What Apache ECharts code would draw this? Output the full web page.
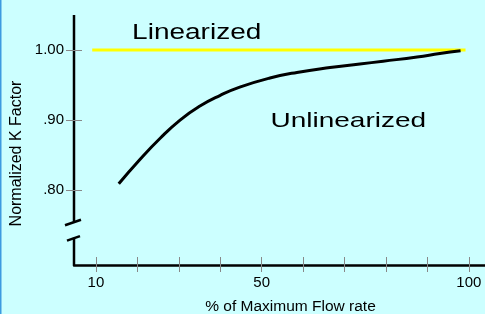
<!DOCTYPE html>
<html>
<head>
<meta charset="utf-8">
<script src="https://cdn.jsdelivr.net/npm/echarts@6/dist/echarts.min.js"></script>
<style>
  html, body { margin: 0; padding: 0; background: #ccffff; }
  #main { width: 485px; height: 314px; }
</style>
</head>
<body>
<div id="main"></div>
<script>
// values
var flowRate = [15.5, 20.5, 25.5, 30.3, 35.1, 39.9, 44.7, 52.0, 58.5, 66.5, 73.7, 79.3, 87.5, 93.0, 98.0];
var unlinearK = [0.809, 0.843, 0.874, 0.900, 0.920, 0.935, 0.947, 0.960, 0.968, 0.975, 0.980, 0.984, 0.990, 0.995, 0.999];
var linearRate = [9.1, 99.2];
var linearK = [1.0, 1.0];
var xTickValues = [10, 20, 30, 40, 50, 60, 70, 80, 90, 100];
var xLabelValues = [10, 50, 100];
var yTickValues = [0.8, 0.9, 1.0];
var yLabelTexts = { '0.8': '.80', '0.9': '.90', '1': '1.00' };

var xMin = 4.7, xMax = 103.9;
var yMin = 0.693, yMax = 1.05;
var breakHigh = 0.754, breakLow = 0.732;

var font = "'Liberation Sans', Arial, sans-serif";

function pairs(xs, ys) {
    return xs.map(function (x, i) { return [x, ys[i]]; });
}

var myChart = echarts.init(document.getElementById('main'));

option = {
    backgroundColor: '#ccffff',
    animation: false,
    grid: { left: 74, right: 0, top: 15, bottom: 49 },
    xAxis: [{
        type: 'value',
        min: xMin,
        max: xMax,
        position: 'bottom',
        axisLine: { show: true, lineStyle: { color: '#000', width: 2.5 } },
        axisTick: { show: true, inside: false, length: 7, customValues: xTickValues, lineStyle: { color: '#888', width: 1 } },
        axisLabel: { customValues: xLabelValues, margin: 10, color: '#000', fontSize: 15, fontFamily: font },
        splitLine: { show: false }
    }, {
        type: 'value',
        min: xMin,
        max: xMax,
        position: 'bottom',
        axisLine: { show: false },
        axisTick: { show: true, inside: true, length: 8, customValues: xTickValues, lineStyle: { color: '#888', width: 1 } },
        axisLabel: { show: false },
        splitLine: { show: false }
    }],
    yAxis: [{
        type: 'value',
        min: yMin,
        max: yMax,
        axisLine: { show: false },
        axisTick: { show: true, inside: false, length: 8, customValues: yTickValues, lineStyle: { color: '#888', width: 1 } },
        axisLabel: {
            customValues: yTickValues,
            margin: 10,
            color: '#000',
            fontSize: 15,
            fontFamily: font,
            formatter: function (v) { return yLabelTexts[String(Math.round(v * 10) / 10)]; }
        },
        splitLine: { show: false }
    }, {
        type: 'value',
        min: yMin,
        max: yMax,
        axisLine: { show: false },
        axisTick: { show: true, inside: true, length: 8, customValues: yTickValues, lineStyle: { color: '#888', width: 1 } },
        axisLabel: { show: false },
        splitLine: { show: false },
        position: 'left'
    }],
    series: [{
        name: 'Linearized',
        type: 'line',
        data: pairs(linearRate, linearK),
        symbol: 'none',
        lineStyle: { color: '#ffff00', width: 3 },
        z: 2
    }, {
        name: 'Unlinearized',
        type: 'line',
        data: pairs(flowRate, unlinearK),
        symbol: 'none',
        smooth: 0.5,
        lineStyle: { color: '#000', width: 3, cap: 'butt' },
        z: 3
    }]
};
myChart.setOption(option);

// axis with break, labels
var ref = { xAxisIndex: 0, yAxisIndex: 0 };
var pTop = myChart.convertToPixel(ref, [xMin, yMax]);
var pHigh = myChart.convertToPixel(ref, [xMin, breakHigh]);
var pLow = myChart.convertToPixel(ref, [xMin, breakLow]);
var pBot = myChart.convertToPixel(ref, [xMin, yMin]);
var ax = pTop[0];
var axisStyle = { stroke: '#000', lineWidth: 2.5, fill: null };

myChart.setOption({
    graphic: [
        { type: 'rect', shape: { x: 0, y: 0, width: 1.5, height: 314 }, style: { fill: '#3d9be0' } },
        { type: 'line', shape: { x1: ax, y1: pTop[1], x2: ax, y2: pHigh[1] }, style: axisStyle },
        { type: 'line', shape: { x1: ax - 9, y1: pHigh[1] + 3, x2: ax + 7, y2: pHigh[1] - 2.5 }, style: axisStyle },
        { type: 'polyline', shape: { points: [[ax - 7, pLow[1] + 3], [ax + 6, pLow[1] - 1.5]] }, style: axisStyle },
        { type: 'line', shape: { x1: ax, y1: pLow[1], x2: ax, y2: pBot[1] }, style: axisStyle },
        {
            type: 'text', x: 196.7, y: 33.4, scaleY: 0.76,
            style: { text: 'Linearized', x: 0, y: 0, fontSize: 28, fontFamily: font, fill: '#000',
                     textAlign: 'center', textVerticalAlign: 'middle', align: 'center', verticalAlign: 'middle' }
        },
        {
            type: 'text', x: 348.3, y: 120.8, scaleY: 0.75,
            style: { text: 'Unlinearized', x: 0, y: 0, fontSize: 28, fontFamily: font, fill: '#000',
                     textAlign: 'center', textVerticalAlign: 'middle', align: 'center', verticalAlign: 'middle' }
        },
        {
            type: 'text', x: 17, y: 153.5, rotation: Math.PI / 2,
            style: { text: 'Normalized K Factor', x: 0, y: 0, fontSize: 16, fontFamily: font, fill: '#000',
                     textAlign: 'center', textVerticalAlign: 'middle', align: 'center', verticalAlign: 'middle' }
        },
        {
            type: 'text', x: 290.5, y: 307,
            style: { text: '% of Maximum Flow rate', x: 0, y: 0, fontSize: 15.5, fontFamily: font, fill: '#000',
                     textAlign: 'center', textVerticalAlign: 'middle', align: 'center', verticalAlign: 'middle' }
        }
    ]
});
</script>
</body>
</html>
